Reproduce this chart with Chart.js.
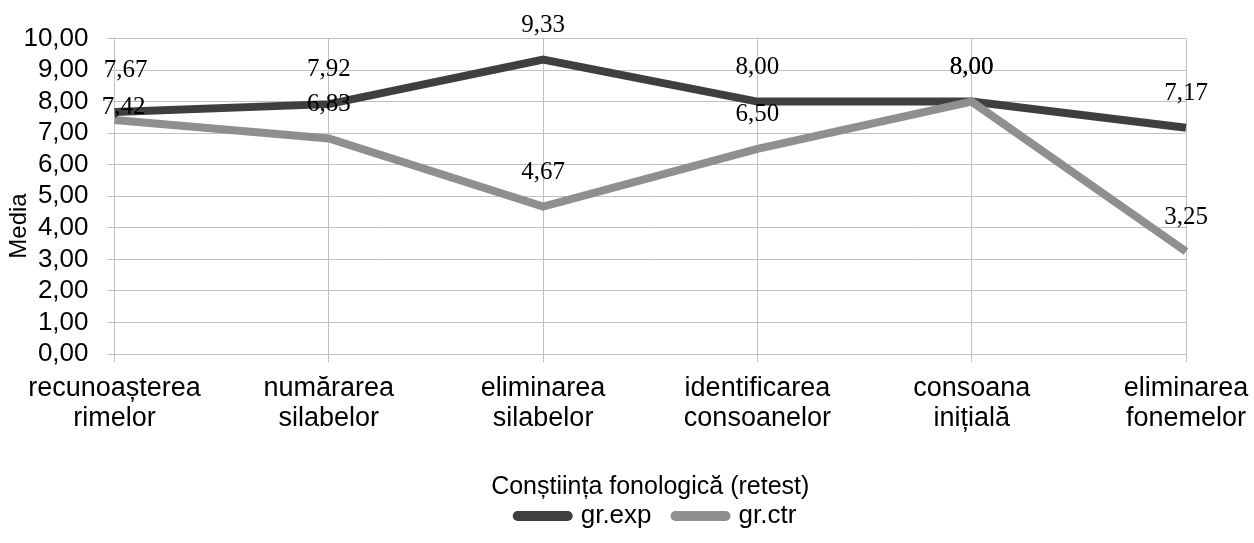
<!DOCTYPE html>
<html>
<head>
<meta charset="utf-8">
<script src="https://cdn.jsdelivr.net/npm/chart.js@4"></script>
<style>
  body { margin: 0; background: #fff; }
  #wrap { width: 1254px; height: 543px; }
</style>
</head>
<body>
<div id="wrap"><canvas id="chart"></canvas></div>
<script>
const categories = [
    ['recunoașterea', 'rimelor'],
    ['numărarea', 'silabelor'],
    ['eliminarea', 'silabelor'],
    ['identificarea', 'consoanelor'],
    ['consoana', 'inițială'],
    ['eliminarea', 'fonemelor']
];
const expValues = [7.67, 7.92, 9.33, 8.00, 8.00, 7.17];
const ctrValues = [7.42, 6.83, 4.67, 6.50, 8.00, 3.25];
const yMin = 0, yMax = 10, yStep = 1;

// label nudges (dx, dy) where the picture moved a label by hand
const labelNudges = [
    { 0: [11, -7] },
    { 0: [9, 22] }
];

const sans = 'Liberation Sans';
const gridColor = '#c0c0c0';

function fmt(v) {
    return v.toFixed(2).replace('.', ',');
}

const valueLabels = {
    id: 'valueLabels',
    afterDatasetsDraw(chart) {
        const ctx = chart.ctx;
        ctx.save();
        ctx.font = '25px "Liberation Serif"';
        ctx.fillStyle = '#000';
        ctx.textAlign = 'center';
        ctx.textBaseline = 'middle';
        chart.data.datasets.forEach(function(ds, di) {
            const meta = chart.getDatasetMeta(di);
            meta.data.forEach(function(pt, i) {
                const n = labelNudges[di][i] || [0, 0];
                ctx.fillText(fmt(ds.data[i]), pt.x + n[0], pt.y - 34.5 + n[1]);
            });
        });
        ctx.restore();
    }
};

const yTitle = {
    id: 'yTitle',
    afterDraw(chart) {
        const ctx = chart.ctx;
        ctx.save();
        ctx.translate(19, 226);
        ctx.rotate(-Math.PI / 2);
        ctx.font = '24px "' + sans + '"';
        ctx.fillStyle = '#000';
        ctx.textAlign = 'center';
        ctx.textBaseline = 'middle';
        ctx.fillText('Media', 0, 0);
        ctx.restore();
    }
};

// centre the legend under the plot area like the original
const legendShift = {
    id: 'legendShift',
    afterLayout(chart) {
        if (chart.legend) {
            chart.legend.left += 64;
            chart.legend.right += 64;
        }
    }
};

new Chart(document.getElementById('chart'), {
    type: 'line',
    data: {
        labels: categories,
        datasets: [
            {
                label: 'gr.exp',
                data: expValues,
                borderColor: '#3f3f3f',
                backgroundColor: '#3f3f3f',
                borderWidth: 8,
                pointRadius: 0,
                tension: 0,
                order: 1
            },
            {
                label: 'gr.ctr',
                data: ctrValues,
                borderColor: '#8f8f8f',
                backgroundColor: '#8f8f8f',
                borderWidth: 8,
                pointRadius: 0,
                tension: 0,
                order: 0
            }
        ]
    },
    options: {
        responsive: true,
        maintainAspectRatio: false,
        animation: false,
        devicePixelRatio: 1,
        layout: { autoPadding: false, padding: { top: 38.5, right: 68, left: 0, bottom: 4 } },
        plugins: {
            tooltip: { enabled: false },
            legend: {
                position: 'bottom',
                labels: {
                    font: { family: sans, size: 26 },
                    color: '#000',
                    usePointStyle: true,
                    pointStyle: 'line',
                    pointStyleWidth: 50,
                    padding: 24,
                    sort: (a, b) => a.datasetIndex - b.datasetIndex,
                    generateLabels: function(chart) {
                        const items = Chart.defaults.plugins.legend.labels.generateLabels(chart);
                        items.forEach(function(it) {
                            it.lineCap = 'round';
                            it.lineWidth = 10;
                            it.pointStyle = 'line';
                        });
                        return items;
                    }
                }
            }
        },
        scales: {
            x: {
                offset: false,
                grid: { color: gridColor, tickLength: 8, offset: false },
                border: { color: gridColor },
                ticks: {
                    font: { family: sans, size: 27, lineHeight: 1.11 },
                    color: '#000',
                    padding: 12,
                    maxRotation: 0,
                    autoSkip: false
                },
                title: {
                    display: true,
                    text: 'Conștiința fonologică (retest)',
                    font: { family: sans, size: 25 },
                    color: '#000',
                    padding: { top: 0, bottom: -23 }
                },
                afterFit: function(axis) {
                    axis.height = 125;
                    axis.paddingLeft = 0;
                    axis.paddingRight = 0;
                }
            },
            y: {
                min: yMin,
                max: yMax,
                grid: { color: gridColor, tickLength: 7 },
                border: { color: gridColor },
                ticks: {
                    stepSize: yStep,
                    autoSkip: false,
                    font: { family: sans, size: 26 },
                    color: '#000',
                    padding: 19,
                    callback: v => fmt(v)
                },
                afterFit: function(axis) { axis.width = 114.5; }
            }
        }
    },
    plugins: [valueLabels, yTitle, legendShift]
});
</script>
</body>
</html>
